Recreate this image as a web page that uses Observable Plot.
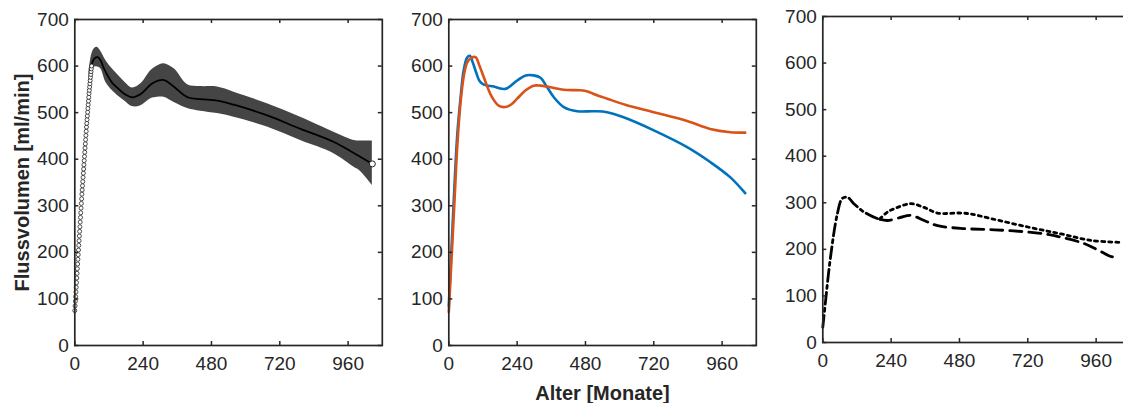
<!DOCTYPE html>
<html><head><meta charset="utf-8">
<script src="https://cdn.jsdelivr.net/npm/d3@7"></script>
<script src="https://cdn.jsdelivr.net/npm/@observablehq/plot@0.6"></script>
<style>
html,body{margin:0;padding:0;background:#fff;overflow:hidden}
#wrap{position:relative;width:1123px;height:403px;overflow:hidden;background:#fff}
#wrap > svg{position:absolute;top:0}
</style></head><body><div id="wrap"></div>
<script>
// ---------- data ----------
const xTicks = [0, 240, 480, 720, 960];
const yTicks = [0, 100, 200, 300, 400, 500, 600, 700];
const xLabel = "Alter [Monate]";
const yLabel = "Flussvolumen [ml/min]";

// Panel 1: raw early values (circles)
const circleAge = [0,1,2,3,4,5,6,7,8,9,10,11,12,13,14,15,16,17,18,19,20,21,22,23,24,25,26,27,28,29,30,31,32,33,34,35,36,37,38,39,40,41,42,43,44,45,46,47,48,49,50,51,52,53,54,55,56,57,58,59];
const circleVal = [75,85,95,105,115,125,135,145,155,165,175,185,195,205,215,225,235,245,255,265,275,285,295,305,315,325,334,343,352,361,370,379,388,397,406,415,424,433,442,451,460,469,477,485,493,501,509,517,525,533,541,548,555,562,569,576,582,588,594,600];
// Panel 1: mean curve
const meanAge = [60,70,80,91,100,115,130,150,175,202,232,273,313,349,396,442,501,559,676,793,910,981,1045];
const meanVal = [605,617,619,612,598,580,565,553,540,533,540,563,570,555,533,529,526,517,494,465,437,413,390];
// Panel 1: confidence band
const bandAge = [50,60,70,80,91,109,126,150,175,202,232,267,290,313,349,396,442,501,559,676,793,910,981,1000,1045];
const bandHi  = [590,626,638,640,632,612,598,582,566,553,562,590,600,605,594,560,556,555,544,519,490,458,440,439,439];
const bandLo  = [545,585,598,598,594,565,551,537,525,513,515,530,533,533,522,509,503,498,490,469,440,412,383,376,344];

// Panel 2: two groups
const blueAge = [0,10,20,30,41,52,64,74,84,94,108,123,158,199,240,270,298,322,345,369,404,451,509,556,614,720,837,918,989,1041];
const blueVal = [85,215,345,455,530,590,618,622,608,590,568,560,556,551,569,580,580,575,555,533,512,503,503,501,490,462,426,394,361,327];
const orangeAge = [0,10,20,30,41,53,65,80,94,108,123,137,152,175,199,220,240,270,298,322,345,404,462,490,509,556,620,720,837,918,989,1041];
const orangeVal = [72,190,310,430,520,580,608,618,619,600,576,553,533,515,512,518,530,548,558,558,556,549,548,545,540,530,517,501,482,465,458,457];

// Panel 3: common early part (dash-dot), then two branches
const earlyAge = [0,9,27,51,68,86,109,145,192,200];
const earlyVal = [33,85,183,276,309,312,298,280,266,265];
const dotAge = [200,227,262,309,356,403,485,520,591,720,838,944,1049];
const dotVal = [265,280,290,298,290,278,278,276,266,248,233,219,215];
const dashAge = [200,227,270,309,356,403,485,603,756,838,920,968,1003,1026];
const dashVal = [265,262,268,273,262,251,245,242,235,226,212,198,187,182];

// ---------- helpers ----------
const zip = (a, b, c) => a.map((x, i) => ({x, y: b[i], y2: c ? c[i] : undefined}));
const FONT = "'Liberation Sans', Arial, Helvetica, sans-serif";
const INK = "#262626";
const wrap = document.getElementById("wrap");

function panel({left, marginTop, marginBottom, marks}) {
  const W = 400, H = 403, ml = 74.3, mr = 18.2;
  const innerW = W - ml - mr, innerH = H - marginTop - marginBottom;
  const svg = Plot.plot({
    width: W, height: H, marginLeft: ml, marginRight: mr, marginTop, marginBottom,
    x: {domain: [0, 1080]}, y: {domain: [0, 700]},
    style: {fontFamily: FONT, fontSize: "19px", color: INK, background: "transparent", overflow: "visible"},
    marks: [
      ...marks,
      Plot.frame({stroke: INK, strokeWidth: 1.7}),
      Plot.tickX(xTicks, {x: d => d, insetTop: innerH - 4, stroke: INK, strokeWidth: 1.5}),
      Plot.tickX(xTicks, {x: d => d, insetBottom: innerH - 4, stroke: INK, strokeWidth: 1.5}),
      Plot.tickY(yTicks, {y: d => d, insetRight: innerW - 4, stroke: INK, strokeWidth: 1.5}),
      Plot.tickY(yTicks, {y: d => d, insetLeft: innerW - 4, stroke: INK, strokeWidth: 1.5}),
      Plot.axisX(xTicks, {tickSize: 0, tickPadding: 11, label: null}),
      Plot.axisY(yTicks, {tickSize: 0, tickPadding: 6, label: null})
    ]
  });
  svg.style.left = left + "px";
  wrap.append(svg);
}

// Panel 1
panel({left: -0.3, marginTop: 19, marginBottom: 58, marks: [
  Plot.areaY(zip(bandAge, bandHi, bandLo), {x: "x", y1: "y2", y2: "y", fill: "#454545", curve: "catmull-rom"}),
  Plot.line(zip(meanAge, meanVal), {x: "x", y: "y", stroke: "#000", strokeWidth: 1.8, curve: "catmull-rom"}),
  Plot.dot(zip(circleAge, circleVal), {x: "x", y: "y", r: 2, fill: "#fff", stroke: "#222", strokeWidth: 0.8}),
  Plot.dot([meanAge.length - 1], {x: i => meanAge[i], y: i => meanVal[i], r: 3, fill: "#fff", stroke: "#222", strokeWidth: 1}),
  Plot.text([yLabel], {text: d => d, frameAnchor: "left", textAnchor: "middle", lineAnchor: "middle", rotate: -90, dx: -52, fontWeight: "bold", fontSize: 20, fill: INK})
]});

// Panel 2
panel({left: 374, marginTop: 19, marginBottom: 58, marks: [
  Plot.line(zip(blueAge, blueVal), {x: "x", y: "y", stroke: "#0072BD", strokeWidth: 2.6, curve: "catmull-rom"}),
  Plot.line(zip(orangeAge, orangeVal), {x: "x", y: "y", stroke: "#D95319", strokeWidth: 2.6, curve: "catmull-rom"}),
  Plot.text([xLabel], {text: d => d, frameAnchor: "bottom", dy: 54, fontWeight: "bold", fontSize: 20, fill: INK})
]});

// Panel 3
panel({left: 748, marginTop: 16, marginBottom: 61, marks: [
  Plot.line(zip(dotAge, dotVal), {x: "x", y: "y", stroke: "#000", strokeWidth: 2.8, strokeDasharray: "3,4", curve: "catmull-rom"}),
  Plot.line(zip(dashAge, dashVal), {x: "x", y: "y", stroke: "#000", strokeWidth: 2.8, strokeDasharray: "12,7", curve: "catmull-rom"}),
  Plot.line(zip(earlyAge, earlyVal), {x: "x", y: "y", stroke: "#000", strokeWidth: 2.8, strokeDasharray: "12,4,3,4", curve: "catmull-rom"})
]});
</script></body></html>
